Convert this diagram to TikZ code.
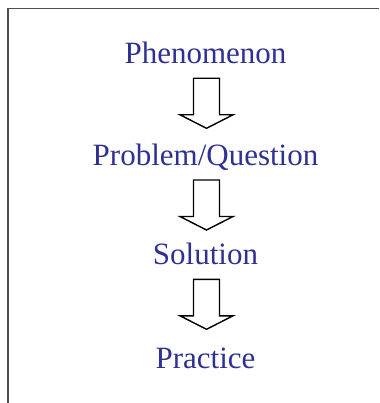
\documentclass[tikz,border=0pt]{standalone}
\usepackage{fontspec}
\setmainfont{Liberation Serif}
\usetikzlibrary{calc}
\definecolor{stepblue}{HTML}{2E3192}
\definecolor{framegray}{HTML}{505050}

\begin{document}
\begin{tikzpicture}[x=1pt,y=-1pt,line join=miter,
  stage/.style={anchor=base,text=stepblue,inner sep=0pt,font=\fontsize{31}{37}\selectfont},
  blockarrow/.style={draw=black,line width=1.4pt,fill=white}]
  \useasboundingbox (0,0) rectangle (379,403);
  \draw[framegray,line width=1.8pt] (7.7,403) -- (7.7,8.5) -- (379,8.5);
  \node[stage] (phen) at (205.5,63.3) {Phenomenon};
  \node[stage] (prob) at (205.5,165) {Problem/Question};
  \node[stage] (sol) at (205.5,264.3) {Solution};
  \node[stage] (prac) at (205.5,368.3) {Practice};
  \foreach \from in {phen,prob,sol}{
    \draw[blockarrow] ($(\from.base)+(-12,15)$) -- ++(26,0) -- ++(0,36.5) -- ++(13.5,0)
      -- ++(-26.5,13.5) -- ++(-26.5,-13.5) -- ++(13.5,0) -- cycle;
  }
\end{tikzpicture}
\end{document}
